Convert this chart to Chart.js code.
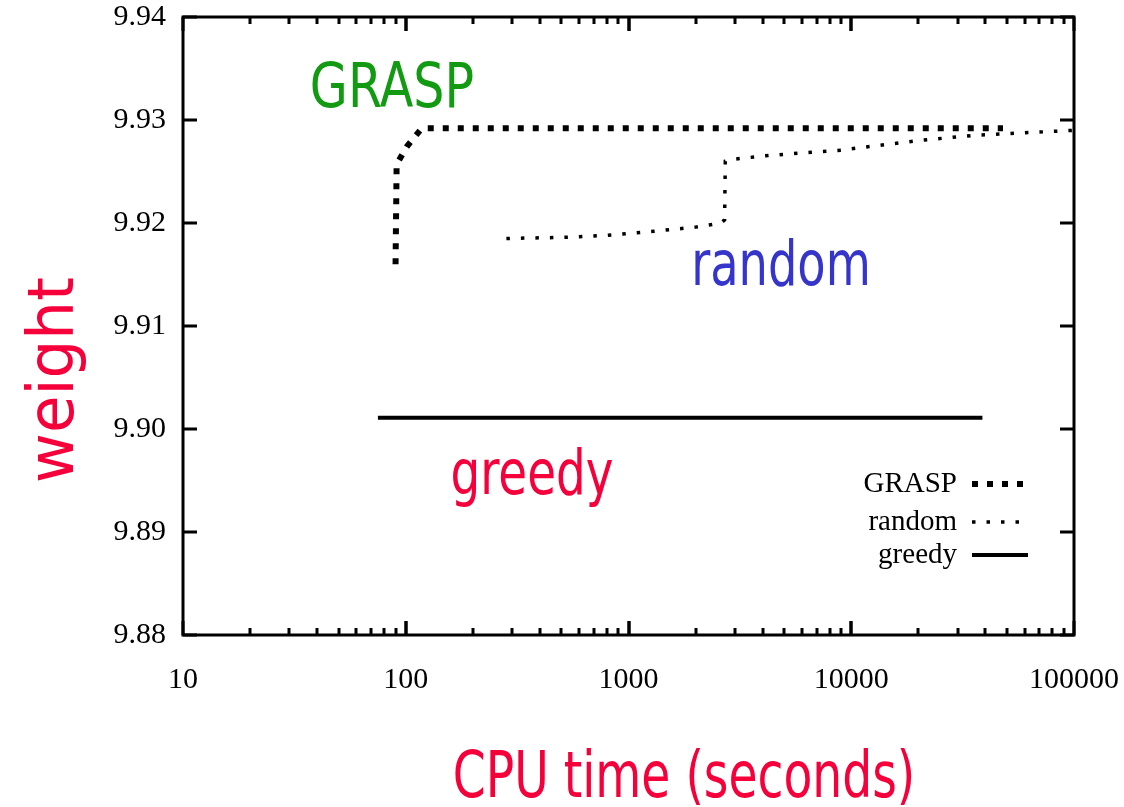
<!DOCTYPE html>
<html>
<head>
<meta charset="utf-8">
<script src="https://cdn.jsdelivr.net/npm/chart.js@4.4.1/dist/chart.umd.min.js"></script>
<style>
  html, body { margin: 0; padding: 0; background: #fff; }
  #wrap { width: 1124px; height: 807px; }
</style>
</head>
<body>
<div id="wrap"><canvas id="weightChart" width="1124" height="807"></canvas></div>
<script>
// values
const graspTime   = [90, 91, 101, 118, 48000];
const graspWeight = [9.9160, 9.9257, 9.9274, 9.9292, 9.9292];

const randomTime   = [283, 500, 800, 1300, 2000, 2600, 2700, 2720, 3000, 4000, 6000, 9500, 10000, 20000, 35000, 100000];
const randomWeight = [9.9185, 9.9186, 9.9188, 9.9192, 9.9196, 9.9200, 9.9203, 9.9260, 9.9262, 9.9265, 9.9268, 9.9271, 9.9272, 9.9280, 9.9285, 9.9290];

const greedyTime   = [75, 38800];
const greedyWeight = [9.9011, 9.9011];

const seriesNames = ['GRASP', 'random', 'greedy'];
const yTicks = [9.88, 9.89, 9.90, 9.91, 9.92, 9.93, 9.94];
const xLabels = [10, 100, 1000, 10000, 100000];

const sansNarrow = '"Liberation Sans Narrow", "DejaVu Sans Condensed", "Noto Sans", sans-serif';
const serif = '"Liberation Serif", "DejaVu Serif", serif';

function toPoints(xs, ys) {
    return xs.map((x, i) => ({ x: x, y: ys[i] }));
}

// draw text squeezed horizontally (the original uses a narrow face)
function narrowText(ctx, text, x, y, sx) {
    ctx.save();
    ctx.translate(x, y);
    ctx.scale(sx, 1);
    ctx.fillText(text, 0, 0);
    ctx.restore();
}

// inward ticks, frame, legend and the coloured labels
const framePlugin = {
    id: 'frame',
    afterDraw(chart) {
        const ctx = chart.ctx;
        const a = chart.chartArea;
        const xs = chart.scales.x;
        const ys = chart.scales.y;
        ctx.save();
        ctx.strokeStyle = '#000';
        ctx.lineWidth = 3;
        ctx.lineCap = 'butt';

        // y ticks on both sides
        yTicks.forEach(v => {
            const py = Math.round(ys.getPixelForValue(v));
            ctx.beginPath();
            ctx.moveTo(a.left, py); ctx.lineTo(a.left + 14, py);
            ctx.moveTo(a.right, py); ctx.lineTo(a.right - 14, py);
            ctx.stroke();
        });
        // x ticks (log) on bottom and top
        for (let dec = 10; dec < 100000; dec *= 10) {
            for (let m = 1; m <= 10; m++) {
                const v = dec * m;
                const px = Math.round(xs.getPixelForValue(v));
                const len = (m === 1 || m === 10) ? 14 : 7;
                ctx.beginPath();
                ctx.moveTo(px, a.bottom); ctx.lineTo(px, a.bottom - len);
                ctx.moveTo(px, a.top); ctx.lineTo(px, a.top + len);
                ctx.stroke();
            }
        }
        ctx.strokeRect(a.left, a.top, a.right - a.left, a.bottom - a.top);

        // legend: text right, sample line
        const legendY = [484, 522, 555];
        chart.data.datasets.forEach((ds, i) => {
            ctx.font = '29px ' + serif;
            ctx.fillStyle = '#000';
            ctx.textAlign = 'right';
            ctx.textBaseline = 'middle';
            ctx.fillText(ds.label, 957, legendY[i]);
            ctx.beginPath();
            ctx.setLineDash(ds.borderDash || []);
            ctx.lineWidth = ds.borderWidth;
            ctx.moveTo(972, legendY[i]);
            ctx.lineTo(1028, legendY[i]);
            ctx.stroke();
        });
        ctx.setLineDash([]);

        // coloured annotations
        ctx.textBaseline = 'alphabetic';
        ctx.textAlign = 'center';
        ctx.font = '62px ' + sansNarrow;
        ctx.fillStyle = '#129a12';
        narrowText(ctx, 'GRASP', 392, 107, 0.88);
        ctx.fillStyle = '#3535cc';
        narrowText(ctx, 'random', 781, 285, 0.83);
        ctx.fillStyle = '#f5003a';
        narrowText(ctx, 'greedy', 532, 494, 0.84);
        ctx.font = '64px ' + sansNarrow;
        narrowText(ctx, 'CPU time (seconds)', 684, 797, 0.82);
        ctx.translate(73, 380);
        ctx.rotate(-Math.PI / 2);
        narrowText(ctx, 'weight', 0, 0, 1.06);
        ctx.restore();
    }
};

const chart = new Chart(document.getElementById('weightChart'), {
    type: 'line',
    data: {
        datasets: [
            {
                label: seriesNames[0],
                data: toPoints(graspTime, graspWeight),
                borderColor: '#000',
                borderWidth: 6,
                borderDash: [6, 9],
                pointRadius: 0,
                tension: 0
            },
            {
                label: seriesNames[1],
                data: toPoints(randomTime, randomWeight),
                borderColor: '#000',
                borderWidth: 3.5,
                borderDash: [3.5, 11],
                pointRadius: 0,
                tension: 0
            },
            {
                label: seriesNames[2],
                data: toPoints(greedyTime, greedyWeight),
                borderColor: '#000',
                borderWidth: 4,
                pointRadius: 0,
                tension: 0
            }
        ]
    },
    options: {
        responsive: false,
        animation: false,
        layout: { padding: { top: 17, right: 50, left: 0, bottom: 0 } },
        plugins: { legend: { display: false }, tooltip: { enabled: false } },
        scales: {
            x: {
                type: 'logarithmic',
                min: 10,
                max: 100000,
                grid: { display: false, drawTicks: false },
                border: { display: false },
                ticks: {
                    autoSkip: false,
                    maxRotation: 0,
                    padding: 27,
                    color: '#000',
                    font: { family: serif, size: 30 },
                    callback: (v) => xLabels.includes(v) ? String(v) : ''
                },
                afterFit: (scale) => {
                    scale.height = 172;
                    scale.paddingLeft = 0;
                    scale.paddingRight = 0;
                }
            },
            y: {
                min: 9.88,
                max: 9.94,
                grid: { display: false, drawTicks: false },
                border: { display: false },
                afterBuildTicks: (scale) => { scale.ticks = yTicks.map(v => ({ value: v })); },
                ticks: {
                    padding: 17,
                    color: '#000',
                    font: { family: serif, size: 30 },
                    callback: (v) => v.toFixed(2)
                },
                afterFit: (scale) => {
                    scale.width = 183;
                    scale.paddingTop = 0;
                    scale.paddingBottom = 0;
                }
            }
        }
    },
    plugins: [framePlugin]
});
</script>
</body>
</html>
